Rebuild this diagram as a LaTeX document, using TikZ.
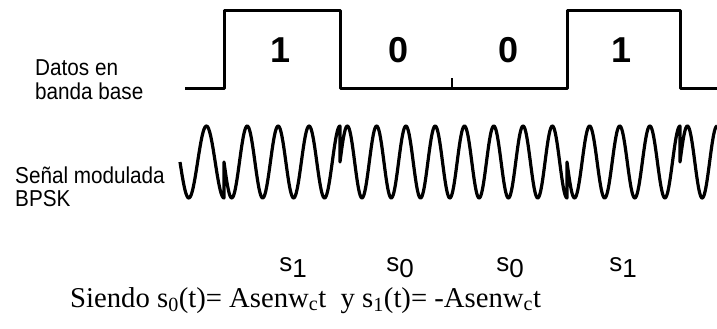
\documentclass[tikz,border=0pt]{standalone}
\usepackage{fontspec}
\setmainfont{Liberation Serif}
\setsansfont{Liberation Sans}
\newfontfamily\lblfont[FakeStretch=0.9]{Liberation Sans}
\tikzset{
  sig/.style={line width=3pt, line join=round, line cap=butt},
  wave/.style={line width=3.2pt, line join=round, line cap=butt},
  lbl/.style={inner sep=0pt, anchor=base west, font=\lblfont\fontsize{23}{26}\selectfont},
  bit/.style={inner sep=0pt, anchor=center, font=\sffamily\bfseries\fontsize{36}{40}\selectfont},
  sym/.style={inner sep=0pt, anchor=base, font=\sffamily\fontsize{26}{30}\selectfont},
  eqn/.style={inner sep=0pt, anchor=base west, font=\rmfamily\fontsize{28.7}{32}\selectfont},
}
\begin{document}
\begin{tikzpicture}[x=1pt,y=-1pt]
\useasboundingbox (0,0) rectangle (717,329);
% baseband data
\coordinate (b0) at (185,88);
\coordinate (b1) at (224,88);
\coordinate (b2) at (224,11);
\coordinate (b3) at (340,11);
\coordinate (b4) at (340,88);
\coordinate (b5) at (567,88);
\coordinate (b6) at (567,11);
\coordinate (b7) at (680,11);
\coordinate (b8) at (680,88);
\coordinate (b9) at (717,88);
\draw[sig] (b0) -- (b1) -- (b2) -- (b3) -- (b4) -- (b5) -- (b6) -- (b7) -- (b8) -- (b9);
\coordinate (tk0) at (452,88);
\coordinate (tk1) at (452,78);
\draw[line width=2pt] (tk0) -- (tk1);
% bit labels
\node[bit] (d1) at (281,50) {1};
\node[bit] (d2) at (399,50) {0};
\node[bit] (d3) at (509,50) {0};
\node[bit] (d4) at (622,50) {1};
% side labels
\node[lbl] (l1) at (35,75) {Datos en};
\node[lbl] (l2) at (35,99) {banda base};
\node[lbl] (l3) at (15,183) {Señal modulada};
\node[lbl] (l4) at (15,206) {BPSK};
% BPSK waveform
\draw[wave]
  plot[domain=180:224, samples=60] (\x, {162+36*sin(450*((\x-180)/44))})
  -- (224,162)
  -- plot[domain=224:340, samples=160] (\x, {162+36*sin(1350*((\x-224)/116))})
  -- (340,162)
  -- plot[domain=340:567, samples=320] (\x, {162-36*sin(2790*((\x-340)/227))})
  -- (567,162)
  -- plot[domain=567:680, samples=160] (\x, {162+36*sin(1350*((\x-567)/113))})
  -- (680,162)
  -- plot[domain=680:717, samples=60] (\x, {162-36*sin(450*((\x-680)/37))});
% symbol labels
\node[sym] (s1) at (293,271) {s\raisebox{-6pt}{1}};
\node[sym] (s2) at (400,271) {s\raisebox{-6pt}{0}};
\node[sym] (s3) at (510,271) {s\raisebox{-6pt}{0}};
\node[sym] (s4) at (623,271) {s\raisebox{-6pt}{1}};
% equation
\node[eqn] (eq) at (70,307) {Siendo s\textsubscript{0}(t)= Asenw\textsubscript{c}t \ y s\textsubscript{1}(t)= -Asenw\textsubscript{c}t};
\end{tikzpicture}
\end{document}
